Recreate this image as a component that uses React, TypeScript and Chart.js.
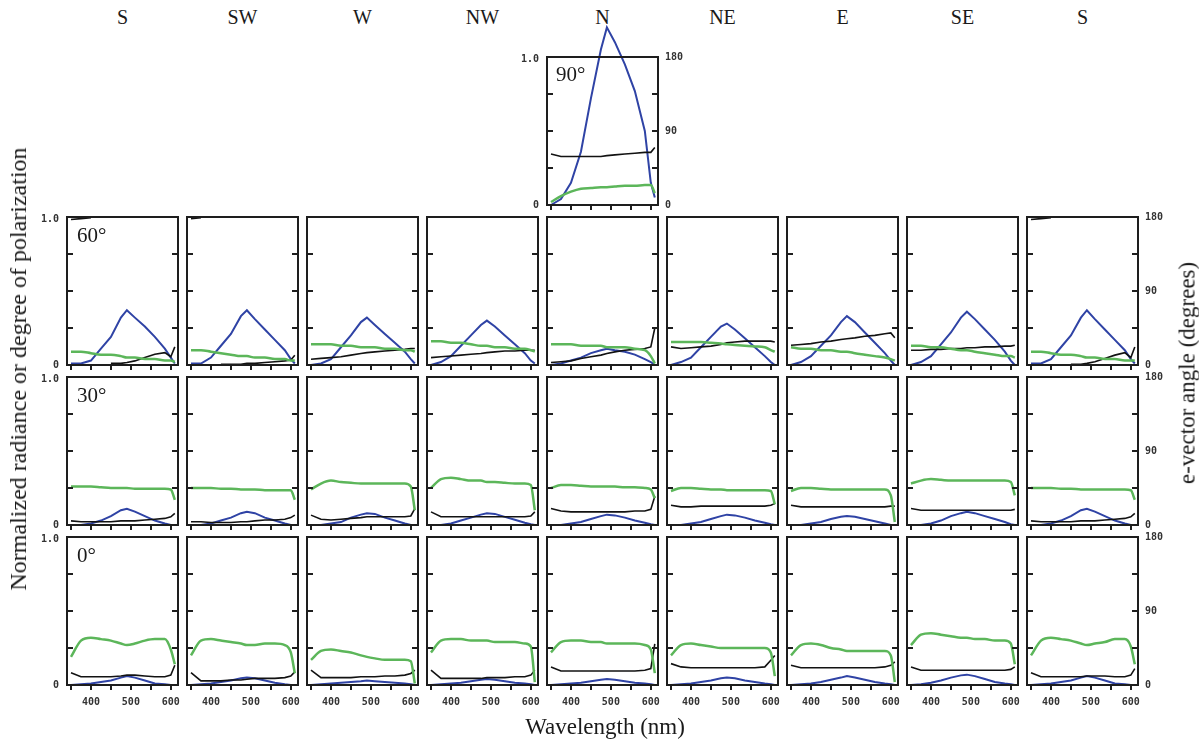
import React, { useEffect, useRef } from "react";
import { Chart, registerables } from "chart.js";
Chart.register(...registerables);

// ---------- data ----------
const WAVELENGTHS = [350, 375, 400, 425, 450, 475, 490, 510, 535, 560, 585, 600, 610];
const DIRECTIONS = ["S", "SW", "W", "NW", "N", "NE", "E", "SE", "S"];
const ELEVATIONS = ["60°", "30°", "0°"];

const X_TICKS = [350, 400, 450, 500, 550, 600];
const X_TICK_LABELS = [400, 500, 600];
const Y_TICKS = [0.25, 0.5, 0.75];
const LEFT_TICK_LABELS = [1, 0];
const RIGHT_TICK_LABELS = [180, 90, 0];

// zenith (90°) panel
const RADIANCE_90 = [0.0, 0.04, 0.15, 0.36, 0.72, 1.05, 1.2, 1.1, 0.95, 0.77, 0.5, 0.15, 0.05];
const POLARIZATION_90 = [0.02, 0.06, 0.09, 0.11, 0.115, 0.12, 0.12, 0.125, 0.13, 0.13, 0.135, 0.135, 0.08];
const EVECTOR_90 = [62, 59, 59, 59, 59, 59, 60, 61, 62, 63, 64, 64, 70];

// 60° elevation, S SW W NW N NE E SE S
const RADIANCE_60 = [
  [0.01, 0.01, 0.03, 0.11, 0.19, 0.32, 0.37, 0.32, 0.26, 0.19, 0.11, 0.05, 0.01],
  [0.01, 0.01, 0.05, 0.13, 0.21, 0.33, 0.37, 0.31, 0.24, 0.17, 0.1, 0.04, 0.01],
  [0.0, 0.01, 0.04, 0.12, 0.2, 0.29, 0.32, 0.27, 0.21, 0.15, 0.09, 0.04, 0.01],
  [0.0, 0.02, 0.06, 0.13, 0.2, 0.27, 0.3, 0.26, 0.2, 0.14, 0.08, 0.03, 0.01],
  [0.0, 0.01, 0.03, 0.05, 0.08, 0.1, 0.11, 0.1, 0.09, 0.07, 0.04, 0.02, 0.0],
  [0.0, 0.02, 0.05, 0.12, 0.19, 0.26, 0.28, 0.24, 0.18, 0.12, 0.06, 0.02, 0.0],
  [0.0, 0.02, 0.06, 0.13, 0.2, 0.29, 0.33, 0.29, 0.22, 0.15, 0.08, 0.03, 0.0],
  [0.0, 0.02, 0.06, 0.14, 0.22, 0.32, 0.36, 0.31, 0.24, 0.17, 0.09, 0.03, 0.0],
  [0.01, 0.01, 0.04, 0.12, 0.2, 0.32, 0.37, 0.31, 0.24, 0.17, 0.1, 0.04, 0.01],
];
const POLARIZATION_60 = [
  [0.09, 0.09, 0.08, 0.07, 0.07, 0.06, 0.05, 0.05, 0.04, 0.04, 0.03, 0.03, 0.02],
  [0.1, 0.1, 0.09, 0.08, 0.07, 0.06, 0.06, 0.05, 0.05, 0.04, 0.04, 0.03, 0.03],
  [0.14, 0.14, 0.14, 0.13, 0.13, 0.12, 0.12, 0.12, 0.11, 0.11, 0.1, 0.1, 0.09],
  [0.16, 0.16, 0.15, 0.15, 0.14, 0.13, 0.13, 0.12, 0.12, 0.11, 0.11, 0.1, 0.09],
  [0.14, 0.14, 0.14, 0.13, 0.13, 0.13, 0.12, 0.12, 0.12, 0.11, 0.1, 0.06, 0.01],
  [0.155, 0.155, 0.155, 0.155, 0.15, 0.145, 0.14, 0.135, 0.13, 0.125, 0.12, 0.1, 0.09],
  [0.12, 0.11, 0.11, 0.1, 0.1, 0.09, 0.09, 0.08, 0.07, 0.06, 0.05, 0.04, 0.03],
  [0.13, 0.13, 0.12, 0.12, 0.11, 0.1, 0.1, 0.09, 0.08, 0.07, 0.06, 0.06, 0.05],
  [0.09, 0.09, 0.08, 0.07, 0.07, 0.06, 0.05, 0.05, 0.04, 0.04, 0.03, 0.03, 0.03],
];
const EVECTOR_60 = [
  [177, 178, 179, null, 2, 2, 3, 5, 9, 13, 15, 10, 22],
  [178, 179, null, 1, 1, 1, 2, 2, 3, 4, 5, 6, 12],
  [7, 8, 9, 10, 12, 14, 15, 16, 17, 18, 19, 20, 20],
  [9, 10, 11, 12, 13, 14, 15, 16, 17, 17, 18, 18, 18],
  [3, 4, 5, 8, 10, 12, 14, 16, 18, 19, 20, 22, 45],
  [22, 20, 21, 22, 23, 25, 27, 28, 29, 29, 29, 29, 28],
  [24, 25, 26, 28, 29, 31, 32, 33, 35, 36, 38, 39, 33],
  [18, 18, 19, 19, 20, 20, 21, 21, 22, 22, 23, 23, 24],
  [177, 178, 179, null, 1, 1, 2, 4, 8, 12, 15, 9, 22],
];

// 30° elevation
const RADIANCE_30 = [
  [0.0, 0.0, 0.01, 0.03, 0.06, 0.1, 0.11, 0.09, 0.06, 0.03, 0.01, 0.0, 0.0],
  [0.0, 0.0, 0.01, 0.03, 0.05, 0.08, 0.09, 0.08, 0.05, 0.03, 0.01, 0.0, 0.0],
  [0.0, 0.0, 0.01, 0.02, 0.05, 0.07, 0.08, 0.075, 0.05, 0.03, 0.01, 0.0, 0.0],
  [0.0, 0.0, 0.01, 0.03, 0.05, 0.07, 0.08, 0.075, 0.055, 0.035, 0.015, 0.005, 0.0],
  [0.0, 0.0, 0.01, 0.02, 0.04, 0.06, 0.07, 0.065, 0.05, 0.03, 0.015, 0.005, 0.0],
  [0.0, 0.0, 0.01, 0.02, 0.04, 0.06, 0.07, 0.065, 0.05, 0.03, 0.015, 0.005, 0.0],
  [0.0, 0.0, 0.01, 0.02, 0.04, 0.055, 0.06, 0.055, 0.04, 0.025, 0.01, 0.0, 0.0],
  [0.0, 0.0, 0.01, 0.03, 0.06, 0.08, 0.09, 0.08, 0.06, 0.04, 0.02, 0.005, 0.0],
  [0.0, 0.0, 0.01, 0.03, 0.06, 0.1, 0.11, 0.09, 0.06, 0.03, 0.01, 0.0, 0.0],
];
const POLARIZATION_30 = [
  [0.26, 0.26, 0.26, 0.255, 0.25, 0.25, 0.25, 0.245, 0.245, 0.245, 0.245, 0.24, 0.17],
  [0.25, 0.25, 0.25, 0.245, 0.245, 0.24, 0.24, 0.24, 0.235, 0.235, 0.235, 0.235, 0.17],
  [0.24, 0.28, 0.3, 0.29, 0.285, 0.28, 0.28, 0.28, 0.28, 0.28, 0.28, 0.26, 0.1],
  [0.25, 0.31, 0.32, 0.31, 0.3, 0.3, 0.29, 0.29, 0.285, 0.28, 0.28, 0.27, 0.1],
  [0.25, 0.27, 0.27, 0.265, 0.26, 0.26, 0.26, 0.26, 0.255, 0.255, 0.25, 0.24, 0.18],
  [0.23, 0.25, 0.25, 0.245, 0.24, 0.24, 0.235, 0.235, 0.235, 0.235, 0.235, 0.23, 0.14],
  [0.23, 0.25, 0.25, 0.245, 0.24, 0.24, 0.24, 0.24, 0.24, 0.24, 0.24, 0.2, 0.02],
  [0.28, 0.3, 0.31, 0.305, 0.3, 0.3, 0.3, 0.3, 0.3, 0.3, 0.3, 0.29, 0.2],
  [0.25, 0.25, 0.25, 0.245, 0.245, 0.24, 0.24, 0.24, 0.24, 0.24, 0.24, 0.235, 0.17],
];
const EVECTOR_30 = [
  [5, 4, 4, 4, 4, 5, 5, 5, 6, 7, 8, 10, 14],
  [4, 4, 3, 3, 3, 4, 4, 5, 6, 6, 7, 9, 12],
  [12, 7, 6, 7, 8, 9, 10, 10, 10, 10, 10, 11, 20],
  [16, 10, 10, 10, 10, 10, 10, 10, 10, 10, 10, 11, 16],
  [20, 17, 16, 16, 16, 16, 16, 16, 16, 17, 17, 19, 35],
  [24, 22, 22, 23, 23, 23, 23, 23, 23, 23, 23, 24, 26],
  [24, 22, 22, 22, 22, 22, 22, 22, 22, 22, 22, 23, 23],
  [20, 18, 18, 18, 18, 18, 18, 18, 18, 18, 18, 18, 19],
  [5, 4, 4, 4, 4, 5, 5, 5, 6, 7, 8, 10, 14],
];

// 0° elevation
const RADIANCE_0 = [
  [0.0, 0.005, 0.01, 0.02, 0.03, 0.05, 0.06, 0.05, 0.03, 0.01, 0.005, 0.0, 0.0],
  [0.0, 0.005, 0.01, 0.02, 0.03, 0.045, 0.05, 0.045, 0.03, 0.015, 0.005, 0.0, 0.0],
  [0.0, 0.005, 0.01, 0.015, 0.02, 0.025, 0.03, 0.025, 0.02, 0.015, 0.01, 0.005, 0.0],
  [0.0, 0.005, 0.01, 0.015, 0.025, 0.035, 0.04, 0.035, 0.025, 0.015, 0.01, 0.005, 0.0],
  [0.0, 0.005, 0.01, 0.015, 0.025, 0.035, 0.04, 0.035, 0.025, 0.015, 0.01, 0.005, 0.0],
  [0.0, 0.005, 0.01, 0.02, 0.03, 0.045, 0.05, 0.045, 0.03, 0.02, 0.01, 0.005, 0.0],
  [0.0, 0.005, 0.01, 0.02, 0.035, 0.05, 0.06, 0.05, 0.035, 0.02, 0.01, 0.005, 0.0],
  [0.0, 0.005, 0.015, 0.03, 0.05, 0.065, 0.07, 0.06, 0.04, 0.02, 0.01, 0.005, 0.0],
  [0.0, 0.005, 0.01, 0.02, 0.03, 0.05, 0.06, 0.05, 0.03, 0.01, 0.005, 0.0, 0.0],
];
const POLARIZATION_0 = [
  [0.19, 0.3, 0.32, 0.31, 0.3, 0.28, 0.27, 0.28, 0.3, 0.31, 0.31, 0.24, 0.14],
  [0.2, 0.3, 0.31, 0.3, 0.29, 0.28, 0.27, 0.27, 0.28, 0.28, 0.27, 0.22, 0.08],
  [0.17, 0.23, 0.24, 0.23, 0.22, 0.2, 0.19, 0.18, 0.17, 0.17, 0.17, 0.16, 0.01],
  [0.22, 0.3, 0.31, 0.31, 0.3, 0.3, 0.3, 0.29, 0.29, 0.29, 0.28, 0.26, 0.02],
  [0.22, 0.29, 0.3, 0.3, 0.29, 0.29, 0.28, 0.28, 0.28, 0.28, 0.27, 0.24, 0.08],
  [0.2, 0.27, 0.28, 0.27, 0.26, 0.25, 0.25, 0.25, 0.25, 0.25, 0.25, 0.22, 0.06],
  [0.2, 0.27, 0.28, 0.27, 0.25, 0.24, 0.23, 0.23, 0.23, 0.23, 0.23, 0.2, 0.02],
  [0.27, 0.34, 0.35, 0.34, 0.33, 0.32, 0.32, 0.31, 0.31, 0.3, 0.3, 0.28, 0.14],
  [0.2, 0.3, 0.32, 0.31, 0.3, 0.28, 0.27, 0.28, 0.29, 0.31, 0.31, 0.26, 0.14],
];
const EVECTOR_0 = [
  [15, 10, 10, 10, 10, 11, 12, 12, 11, 10, 10, 12, 24],
  [15, 5, 5, 5, 6, 6, 7, 8, 8, 8, 9, 11, 16],
  [18, 9, 9, 9, 9, 10, 10, 10, 11, 11, 12, 14, 18],
  [18, 8, 8, 8, 8, 8, 9, 9, 9, 10, 10, 12, 18],
  [22, 17, 17, 17, 17, 17, 17, 17, 17, 17, 18, 20, 50],
  [26, 22, 21, 21, 21, 21, 21, 21, 21, 21, 22, 30, 36],
  [24, 21, 21, 21, 21, 21, 21, 21, 21, 21, 22, 24, 28],
  [22, 18, 18, 18, 18, 18, 18, 18, 18, 18, 18, 19, 22],
  [15, 10, 10, 10, 10, 10, 11, 11, 11, 10, 10, 12, 20],
];

// ---------- styles ----------
const BLUE = "#2f43a5";
const GREEN = "#5cb65a";
const BLACK = "#121212";
const FRAME = "#1e1e1e";
const TICK_FONT = 'bold 10px "DejaVu Sans Mono", monospace';
const SERIF = '"Liberation Serif", "DejaVu Serif", serif';

const BOX_W = 111;
const BOX_H = 148;
const COL_X0 = 67;
const COL_STEP = 120;
const ROW_TOPS = [217, 377, 537];
const TOP90 = 57;

const framePlugin = {
  id: "panelFrame",
  afterDatasetsDraw(chart: any, _args: any, opts: any) {
    const { ctx, chartArea: a, scales } = chart;
    const sx = scales.x;
    const sy = scales.y;
    const sy2 = scales.y2;
    ctx.save();
    ctx.strokeStyle = FRAME;
    ctx.lineWidth = 2;
    ctx.strokeRect(a.left, a.top, a.right - a.left, a.bottom - a.top);
    ctx.beginPath();
    for (const v of Y_TICKS) {
      const py = Math.round(sy.getPixelForValue(v));
      ctx.moveTo(a.left, py);
      ctx.lineTo(a.left + 6, py);
      ctx.moveTo(a.right - 6, py);
      ctx.lineTo(a.right, py);
    }
    for (const w of X_TICKS) {
      const px = Math.round(sx.getPixelForValue(w));
      ctx.moveTo(px, a.bottom);
      ctx.lineTo(px, a.bottom + 5);
    }
    ctx.stroke();

    ctx.fillStyle = "#333";
    ctx.font = TICK_FONT;
    ctx.textBaseline = "middle";
    if (opts.left) {
      ctx.textAlign = "right";
      for (const v of LEFT_TICK_LABELS) {
        ctx.fillText(v === 0 ? "0" : v.toFixed(1), a.left - 8, sy.getPixelForValue(v) + (v === 1 ? 2 : 0));
      }
    }
    if (opts.right) {
      ctx.textAlign = "left";
      for (const v of RIGHT_TICK_LABELS) {
        ctx.fillText(String(v), a.right + 7, sy2.getPixelForValue(v));
      }
    }
    if (opts.bottom) {
      ctx.textAlign = "center";
      for (const w of X_TICK_LABELS) {
        ctx.fillText(String(w), sx.getPixelForValue(w), a.bottom + 17);
      }
    }
    ctx.restore();
  },
};

type PanelProps = {
  left: number;
  top: number;
  radiance: (number | null)[];
  polarization: (number | null)[];
  evector: (number | null)[];
  showLeft: boolean;
  showRight: boolean;
  showBottom: boolean;
  overflowTop: number;
};

function Panel(p: PanelProps) {
  const ref = useRef<HTMLCanvasElement>(null);
  const padL = 45;
  const padR = 45;
  const padT = 6 + p.overflowTop;
  const padB = 26;
  const w = BOX_W + padL + padR;
  const h = BOX_H + padT + padB;

  useEffect(() => {
    if (!ref.current) return;
    const pts = (arr: (number | null)[]) => WAVELENGTHS.map((x, i) => ({ x, y: arr[i] }));
    const chart = new Chart(ref.current, {
      type: "line",
      data: {
        datasets: [
          {
            data: pts(p.polarization) as any,
            borderColor: GREEN,
            borderWidth: 2.5,
            cubicInterpolationMode: "monotone",
            yAxisID: "y",
          },
          {
            data: pts(p.evector) as any,
            borderColor: BLACK,
            borderWidth: 1.6,
            yAxisID: "y2",
            spanGaps: false,
          },
          {
            data: pts(p.radiance) as any,
            borderColor: BLUE,
            borderWidth: 2,
            yAxisID: "y",
            clip: p.overflowTop > 0 ? (false as any) : undefined,
          },
        ],
      },
      options: {
        animation: false,
        responsive: false,
        devicePixelRatio: 1,
        layout: { padding: { left: padL, right: padR, top: padT, bottom: padB } },
        elements: { point: { radius: 0 }, line: { tension: 0 } },
        plugins: {
          legend: { display: false },
          tooltip: { enabled: false },
          panelFrame: { left: p.showLeft, right: p.showRight, bottom: p.showBottom },
        } as any,
        scales: {
          x: { type: "linear", min: 340, max: 618, display: false },
          y: { type: "linear", min: 0, max: 1, display: false },
          y2: { type: "linear", min: 0, max: 180, display: false, position: "right" },
        },
      },
      plugins: [framePlugin as any],
    });
    return () => chart.destroy();
  }, []);

  return (
    <canvas
      ref={ref}
      width={w}
      height={h}
      style={{ position: "absolute", left: p.left - padL, top: p.top - padT, width: w, height: h }}
    />
  );
}

function Label(props: { x: number; y: number; text: string; size: number; align?: "left" | "center" }) {
  const { x, y, text, size, align } = props;
  return (
    <div
      style={{
        position: "absolute",
        left: x,
        top: y,
        transform: align === "left" ? undefined : "translateX(-50%)",
        fontFamily: SERIF,
        fontSize: size,
        lineHeight: `${size}px`,
        color: "#1a1a1a",
        whiteSpace: "nowrap",
      }}
    >
      {text}
    </div>
  );
}

function VerticalTitle(props: { x: number; y: number; text: string; size: number }) {
  return (
    <div
      style={{
        position: "absolute",
        left: props.x,
        top: props.y,
        transform: "translate(-50%, -50%) rotate(-90deg)",
        fontFamily: SERIF,
        fontSize: props.size,
        lineHeight: `${props.size}px`,
        color: "#1a1a1a",
        whiteSpace: "nowrap",
      }}
    >
      {props.text}
    </div>
  );
}

export default function App() {
  const rows = [
    { r: RADIANCE_60, d: POLARIZATION_60, e: EVECTOR_60 },
    { r: RADIANCE_30, d: POLARIZATION_30, e: EVECTOR_30 },
    { r: RADIANCE_0, d: POLARIZATION_0, e: EVECTOR_0 },
  ];
  const lastCol = DIRECTIONS.length - 1;
  return (
    <div
      style={{
        position: "absolute",
        left: 0,
        top: 0,
        width: 1199,
        height: 748,
        background: "#fff",
        overflow: "hidden",
      }}
    >
      {DIRECTIONS.map((d, i) => (
        <Label key={"dir" + i} x={COL_X0 + COL_STEP * i + BOX_W / 2} y={7} text={d} size={20} />
      ))}

      <Panel
        left={COL_X0 + COL_STEP * 4}
        top={TOP90}
        radiance={RADIANCE_90}
        polarization={POLARIZATION_90}
        evector={EVECTOR_90}
        showLeft={true}
        showRight={true}
        showBottom={false}
        overflowTop={45}
      />
      <Label x={COL_X0 + COL_STEP * 4 + 9} y={TOP90 + 7} text="90°" size={21} align="left" />

      {rows.map((row, ri) =>
        DIRECTIONS.map((_, ci) => (
          <Panel
            key={`p${ri}-${ci}`}
            left={COL_X0 + COL_STEP * ci}
            top={ROW_TOPS[ri]}
            radiance={row.r[ci]}
            polarization={row.d[ci]}
            evector={row.e[ci]}
            showLeft={ci === 0}
            showRight={ci === lastCol}
            showBottom={ri === rows.length - 1}
            overflowTop={0}
          />
        ))
      )}
      {ELEVATIONS.map((el, ri) => (
        <Label key={"el" + ri} x={COL_X0 + 10} y={ROW_TOPS[ri] + 8} text={el} size={21} align="left" />
      ))}

      <Label x={605} y={715} text="Wavelength (nm)" size={23} />

      <VerticalTitle x={18} y={369} text="Normalized radiance or degree of polarization" size={24} />
      <VerticalTitle x={1187} y={373} text="e-vector angle (degrees)" size={23} />
    </div>
  );
}
